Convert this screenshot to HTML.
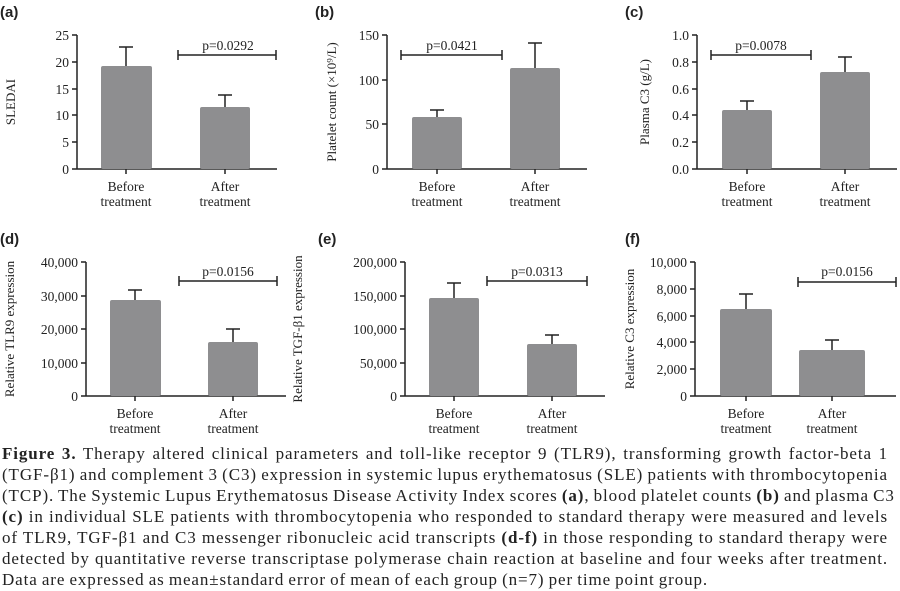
<!DOCTYPE html>
<html><head><meta charset="utf-8"><style>
html,body{margin:0;padding:0;background:#fff;width:900px;height:591px;overflow:hidden}
svg{position:absolute;left:0;top:0}
.cap{position:absolute;left:2px;width:886px;font-family:"Liberation Serif",serif;font-size:17px;letter-spacing:0.9px;word-spacing:-1px;color:#222;text-align:justify;text-align-last:justify;white-space:nowrap;line-height:21px}
.cap.last{text-align-last:left}
</style></head><body>
<svg width="900" height="440" font-family="Liberation Serif, serif" fill="#222">
<g font-family="Liberation Sans, sans-serif" font-weight="bold" font-size="15">
<text x="0" y="17">(a)</text><text x="315" y="17">(b)</text><text x="625" y="17">(c)</text>
<text x="0" y="244">(d)</text><text x="318" y="244">(e)</text><text x="625" y="244">(f)</text>
</g>
<g stroke="#222" stroke-width="1.5" fill="none">
<path d="M77,35V169H277 M72,35H77 M72,62H77 M72,89H77 M72,115H77 M72,142H77 M72,169H77 M126,169v5 M225,169v5"/>
<path d="M126,66V47 M119,47H133 M225,107V95 M218,95H232"/>
<path d="M178,55H276 M178,50v10 M276,50v10"/>
<path d="M387,35V169H587 M382,35H387 M382,80H387 M382,124H387 M382,169H387 M437,169v5 M535,169v5"/>
<path d="M437,117V110 M430,110H444 M535,68V43 M528,43H542"/>
<path d="M401,55H502 M401,50v10 M502,50v10"/>
<path d="M697,35V169H897 M692,35H697 M692,62H697 M692,89H697 M692,115H697 M692,142H697 M692,169H697 M747,169v5 M845,169v5"/>
<path d="M747,110V101 M740,101H754 M845,72V57 M838,57H852"/>
<path d="M711,55H811 M711,50v10 M811,50v10"/>
<path d="M86,262V396H286 M81,262H86 M81,296H86 M81,329H86 M81,363H86 M81,396H86 M135,396v5 M233,396v5"/>
<path d="M135,300V290 M128,290H142 M233,342V329 M226,329H240"/>
<path d="M179,281H277 M179,276v10 M277,276v10"/>
<path d="M405,262V396H605 M400,262H405 M400,296H405 M400,329H405 M400,363H405 M400,396H405 M454,396v5 M552,396v5"/>
<path d="M454,298V283 M447,283H461 M552,344V335 M545,335H559"/>
<path d="M487,281H587 M487,276v10 M587,276v10"/>
<path d="M695,262V396H896 M690,262H695 M690,289H695 M690,316H695 M690,342H695 M690,369H695 M690,396H695 M746,396v5 M832,396v5"/>
<path d="M746,309V294 M739,294H753 M832,350V340 M825,340H839"/>
<path d="M798,282H896 M798,277v10 M896,277v10"/>
</g>
<g fill="#8e8e90">
<rect x="101" y="66" width="51" height="103" rx="2"/><rect x="200" y="107" width="50" height="62" rx="2"/>
<rect x="412" y="117" width="50" height="52" rx="2"/><rect x="510" y="68" width="50" height="101" rx="2"/>
<rect x="722" y="110" width="50" height="59" rx="2"/><rect x="820" y="72" width="50" height="97" rx="2"/>
<rect x="110" y="300" width="51" height="96" rx="2"/><rect x="208" y="342" width="50" height="54" rx="2"/>
<rect x="429" y="298" width="50" height="98" rx="2"/><rect x="527" y="344" width="50" height="52" rx="2"/>
<rect x="720" y="309" width="52" height="87" rx="2"/><rect x="799" y="350" width="66" height="46" rx="2"/>
</g>
<g font-size="13.5" text-anchor="end">
<text x="69" y="40">25</text><text x="69" y="67">20</text><text x="69" y="94">15</text><text x="69" y="120">10</text><text x="69" y="147">5</text><text x="69" y="174">0</text>
<text x="379" y="40">150</text><text x="379" y="85">100</text><text x="379" y="129">50</text><text x="379" y="174">0</text>
<text x="689" y="40">1.0</text><text x="689" y="67">0.8</text><text x="689" y="94">0.6</text><text x="689" y="120">0.4</text><text x="689" y="147">0.2</text><text x="689" y="174">0.0</text>
<text x="78" y="267">40,000</text><text x="78" y="301">30,000</text><text x="78" y="334">20,000</text><text x="78" y="368">10,000</text><text x="78" y="401">0</text>
<text x="397" y="267">200,000</text><text x="397" y="301">150,000</text><text x="397" y="334">100,000</text><text x="397" y="368">50,000</text><text x="397" y="401">0</text>
<text x="687" y="267">10,000</text><text x="687" y="294">8,000</text><text x="687" y="321">6,000</text><text x="687" y="347">4,000</text><text x="687" y="374">2,000</text><text x="687" y="401">0</text>
</g>
<g font-size="13.5" text-anchor="middle">
<text x="228" y="50">p=0.0292</text><text x="452" y="50">p=0.0421</text><text x="761" y="50">p=0.0078</text>
<text x="228" y="276">p=0.0156</text><text x="537" y="276">p=0.0313</text><text x="847" y="276">p=0.0156</text>
</g>
<g font-size="13.5" text-anchor="middle">
<text x="126" y="191">Before</text><text x="126" y="206">treatment</text><text x="225" y="191">After</text><text x="225" y="206">treatment</text>
<text x="437" y="191">Before</text><text x="437" y="206">treatment</text><text x="535" y="191">After</text><text x="535" y="206">treatment</text>
<text x="747" y="191">Before</text><text x="747" y="206">treatment</text><text x="845" y="191">After</text><text x="845" y="206">treatment</text>
<text x="135" y="418">Before</text><text x="135" y="433">treatment</text><text x="233" y="418">After</text><text x="233" y="433">treatment</text>
<text x="454" y="418">Before</text><text x="454" y="433">treatment</text><text x="552" y="418">After</text><text x="552" y="433">treatment</text>
<text x="746" y="418">Before</text><text x="746" y="433">treatment</text><text x="832" y="418">After</text><text x="832" y="433">treatment</text>
</g>
<g font-size="13" text-anchor="middle">
<text transform="translate(15,102) rotate(-90)">SLEDAI</text>
<text transform="translate(336,102) rotate(-90)">Platelet count (×10⁹/L)</text>
<text transform="translate(649,102) rotate(-90)">Plasma C3 (g/L)</text>
<text transform="translate(14,329) rotate(-90)">Relative TLR9 expression</text>
<text transform="translate(302,329) rotate(-90)">Relative TGF-β1 expression</text>
<text transform="translate(634,329) rotate(-90)">Relative C3 expression</text>
</g>
</svg>
<div class="cap" style="top:443px"><b>Figure 3.</b> Therapy altered clinical parameters and toll-like receptor 9 (TLR9), transforming growth factor-beta 1</div>
<div class="cap" style="top:464px">(TGF-β1) and complement 3 (C3) expression in systemic lupus erythematosus (SLE) patients with thrombocytopenia</div>
<div class="cap" style="top:485px">(TCP). The Systemic Lupus Erythematosus Disease Activity Index scores <b>(a)</b>, blood platelet counts <b>(b)</b> and plasma C3</div>
<div class="cap" style="top:506px"><b>(c)</b> in individual SLE patients with thrombocytopenia who responded to standard therapy were measured and levels</div>
<div class="cap" style="top:527px">of TLR9, TGF-β1 and C3 messenger ribonucleic acid transcripts <b>(d-f)</b> in those responding to standard therapy were</div>
<div class="cap" style="top:548px">detected by quantitative reverse transcriptase polymerase chain reaction at baseline and four weeks after treatment.</div>
<div class="cap last" style="top:569px">Data are expressed as mean±standard error of mean of each group (n=7) per time point group.</div>
</body></html>
